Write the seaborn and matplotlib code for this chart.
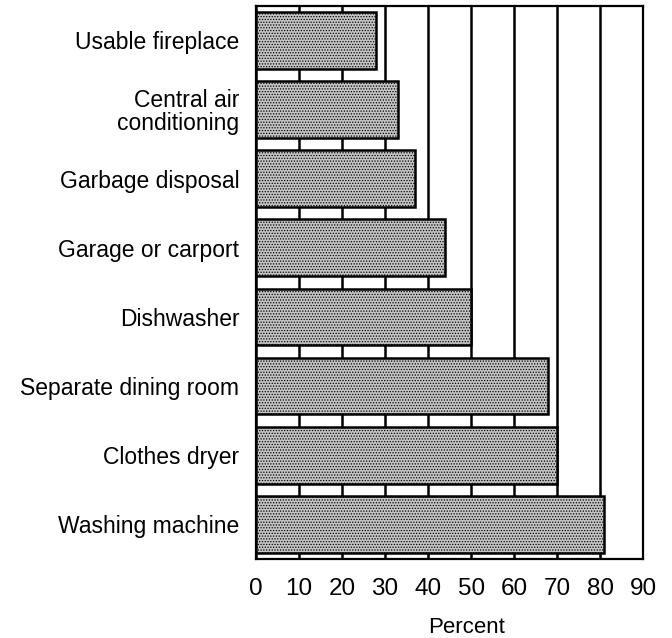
import matplotlib
matplotlib.use("Agg")
import matplotlib.pyplot as plt
import seaborn as sns
import pandas as pd

features = ["Usable fireplace", "Central air\nconditioning", "Garbage disposal",
            "Garage or carport", "Dishwasher", "Separate dining room",
            "Clothes dryer", "Washing machine"]
percent = [28, 33, 37, 44, 50, 68, 70, 81]
xticks = [0, 10, 20, 30, 40, 50, 60, 70, 80, 90]

df = pd.DataFrame({"feature": features, "percent": percent})

sns.set_theme(style="white")
plt.rcParams["font.family"] = ["Liberation Sans", "DejaVu Sans"]
plt.rcParams["text.color"] = "black"
plt.rcParams["xtick.color"] = "black"
plt.rcParams["ytick.color"] = "black"
plt.rcParams["axes.labelcolor"] = "black"
plt.rcParams["hatch.color"] = "#1a1a1a"
plt.rcParams["hatch.linewidth"] = 0.6

fig = plt.figure(figsize=(6.72, 6.38), dpi=100)
ax = fig.add_axes([0.381, 0.124, 0.576, 0.867])

sns.barplot(data=df, x="percent", y="feature", orient="h", ax=ax,
            color="#c4c4c4", edgecolor="black", linewidth=1.8, width=0.82,
            saturation=1, zorder=3)
for p in ax.patches:
    p.set_hatch("......")

ax.set_xlim(0, 90)
ax.set_ylim(7.5, -0.5)
ax.set_xticks(xticks)
ax.set_xticklabels([str(t) for t in xticks], fontsize=17.5)
ax.tick_params(axis="x", length=0, pad=14, colors="black")
ax.tick_params(axis="y", length=0, pad=12, labelsize=16.5, colors="black")
for lbl in ax.get_yticklabels():
    lbl.set_linespacing(1.0)
ax.xaxis.grid(True, color="black", linewidth=1.8, zorder=0)
ax.set_axisbelow(True)
ax.set_ylabel("")
ax.set_xlabel("Percent", fontsize=16, color="black")
ax.xaxis.set_label_coords(0.543, -0.105)
for s in ax.spines.values():
    s.set_visible(True)
    s.set_color("black")
    s.set_linewidth(1.6)

fig.savefig("out.png", dpi=100, facecolor="white")
